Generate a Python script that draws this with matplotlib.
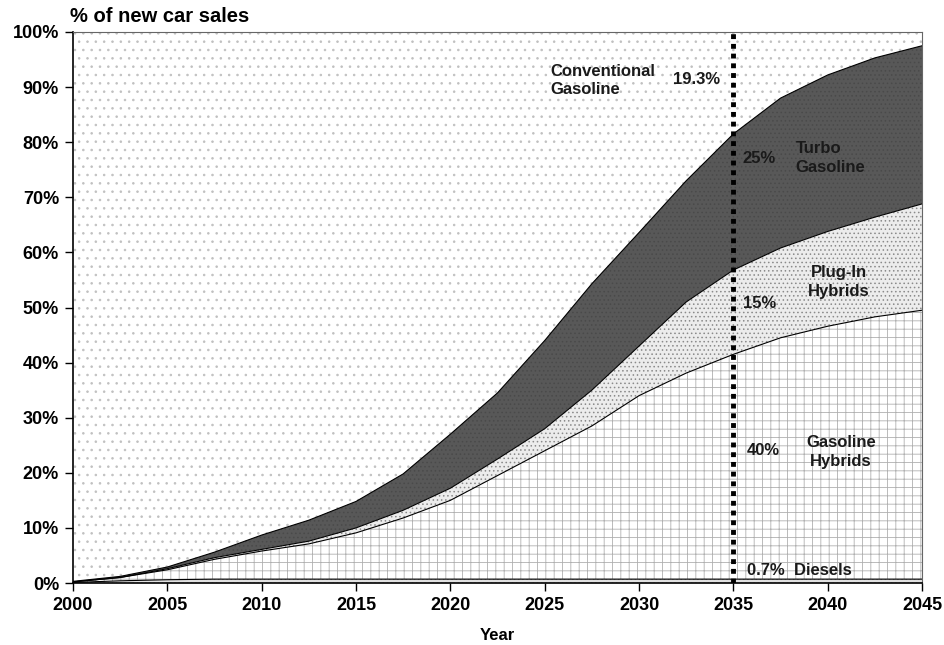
import numpy as np
import matplotlib.pyplot as plt

plt.rcParams['font.family'] = ['Liberation Sans', 'DejaVu Sans']
plt.rcParams['hatch.linewidth'] = 0.6

# share of new car sales (%) by technology
years = [2000, 2002.5, 2005, 2007.5, 2010, 2012.5, 2015, 2017.5, 2020, 2022.5,
         2025, 2027.5, 2030, 2032.5, 2035, 2037.5, 2040, 2042.5, 2045]
diesels = [0.1, 0.4, 0.6, 0.7, 0.7, 0.7, 0.7, 0.7, 0.7, 0.7,
           0.7, 0.7, 0.7, 0.7, 0.7, 0.7, 0.7, 0.7, 0.7]
gas_hybrids = [0.1, 0.6, 1.8, 3.6, 5.1, 6.4, 8.4, 11.1, 14.3, 18.8,
               23.3, 27.8, 33.3, 37.4, 40.8, 43.8, 45.9, 47.6, 48.8]
plugin_hybrids = [0.0, 0.0, 0.2, 0.3, 0.3, 0.5, 0.9, 1.4, 2.2, 3.0,
                  4.0, 6.5, 9.0, 12.9, 15.3, 16.3, 17.2, 18.1, 19.3]
turbo_gas = [0.1, 0.2, 0.3, 1.0, 2.6, 3.8, 4.8, 6.6, 9.8, 12.0,
             16.0, 19.3, 20.6, 22.0, 24.7, 27.2, 28.4, 28.9, 28.7]

x_ticks = [2000, 2005, 2010, 2015, 2020, 2025, 2030, 2035, 2040, 2045]
y_ticks = [0, 10, 20, 30, 40, 50, 60, 70, 80, 90, 100]

# === cumulative boundaries ===
x = np.array(years)
top_d = np.array(diesels)
top_gh = top_d + np.array(gas_hybrids)
top_ph = top_gh + np.array(plugin_hybrids)
top_tb = top_ph + np.array(turbo_gas)

fig = plt.figure(figsize=(9.45, 6.45), dpi=100)
ax = fig.add_axes([0.0772, 0.0961, 0.8985, 0.8543])

# conventional gasoline = background up to 100%
ax.fill_between(x, top_tb, 100, facecolor='white', edgecolor='#c0c0c0',
                hatch='..', linewidth=0)
ax.fill_between(x, top_ph, top_tb, facecolor='#585858', edgecolor='#4a4a4a',
                hatch='....', linewidth=0)
ax.fill_between(x, top_gh, top_ph, facecolor='#ececec', edgecolor='#8a8a8a',
                hatch='....', linewidth=0)
ax.fill_between(x, top_d, top_gh, facecolor='white', edgecolor='#b0b0b0',
                hatch='++', linewidth=0)
ax.fill_between(x, 0, top_d, facecolor='#e0e0e0', edgecolor='#999999',
                hatch='....', linewidth=0)

for top in [top_d, top_gh, top_ph, top_tb]:
    ax.plot(x, top, color='black', linewidth=0.8)

# 2035 marker
ax.plot([2035, 2035], [0, 100], color='black', linestyle=(0, (1, 1)), linewidth=3.5)

ax.set_xlim(2000, 2045)
ax.set_ylim(0, 100)
ax.set_xticks(x_ticks)
ax.set_yticks(y_ticks)
ax.set_xticklabels([str(t) for t in x_ticks], fontsize=13, fontweight='bold')
ax.set_yticklabels([f'{t}%' for t in y_ticks], fontsize=13, fontweight='bold')
ax.tick_params(direction='out', length=6, width=1, pad=4)
ax.set_xlabel('Year', fontsize=12, fontweight='bold', labelpad=10)
for side in ['left', 'bottom']:
    ax.spines[side].set_linewidth(1.2)
for side in ['top', 'right']:
    ax.spines[side].set_color('#666666')
    ax.spines[side].set_linewidth(0.8)

fig.text(70 / 945, 1 - 17 / 645, '% of new car sales', fontsize=14.5,
         fontweight='bold', va='center', ha='left')

# === annotations ===
kw = dict(fontsize=12, fontweight='bold', color='#1a1a1a')
ax.text(2025.3, 91.2, 'Conventional\nGasoline', ha='left', va='center',
        linespacing=1.3, **kw)
ax.text(2031.8, 91.3, '19.3%', ha='left', va='center', **kw)
ax.text(2035.5, 77.1, '25%', ha='left', va='center', **kw)
ax.text(2038.3, 77.1, 'Turbo\nGasoline', ha='left', va='center',
        linespacing=1.3, **kw)
ax.text(2035.5, 50.8, '15%', ha='left', va='center', **kw)
ax.text(2040.6, 54.6, 'Plug-In\nHybrids', ha='center', va='center',
        linespacing=1.3, **kw)
ax.text(2035.7, 24.1, '40%', ha='left', va='center', **kw)
ax.text(2040.7, 23.8, 'Gasoline\nHybrids', ha='center', va='center',
        linespacing=1.3, **kw)
ax.text(2035.7, 2.3, '0.7%  Diesels', ha='left', va='center', **kw)

plt.savefig('out.png', dpi=100)
